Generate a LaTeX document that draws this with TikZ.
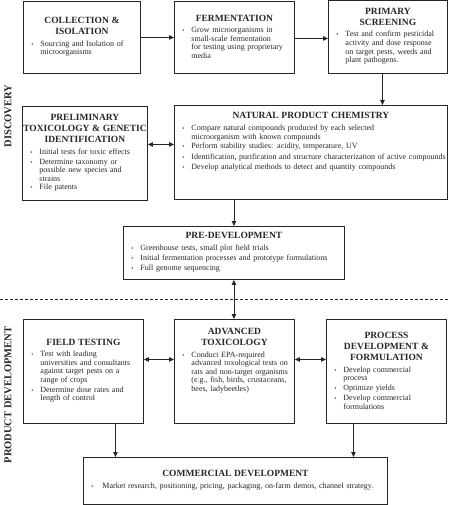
\documentclass[tikz,border=0pt]{standalone}
\usepackage{fontspec}
\setmainfont{Liberation Serif}
\usetikzlibrary{arrows.meta,calc}
\newcommand{\hd}[1]{{\centering\fontsize{9.5}{11.2}\selectfont\bfseries #1\par}\vspace{3pt}}
\newcommand{\bi}[1]{\par\noindent\hspace*{8pt}\makebox[9pt][l]{\fontsize{6}{6}\selectfont\textbullet}\parbox[t]{\dimexpr\hsize-19pt\relax}{\fontsize{8}{8.6}\selectfont\raggedright #1}\par\vspace{1.5pt}}
\definecolor{ink}{gray}{0.15}
\tikzset{
  stage/.style={draw=ink, line width=0.9pt, anchor=north west, inner xsep=0pt, inner ysep=1pt, text=ink, font=\fontsize{8}{8.6}\selectfont},
  arr/.style={draw=ink, line width=0.8pt, -{Triangle[length=5pt,width=4.5pt]}},
  dbl/.style={draw=ink, line width=0.8pt, {Triangle[length=5pt,width=4.5pt]}-{Triangle[length=5pt,width=4.5pt]}},
  phase/.style={rotate=90, text=ink, font=\fontsize{10.5}{12}\selectfont\bfseries}
}
\begin{document}
\begin{tikzpicture}[x=1pt,y=-1pt]
\useasboundingbox (0,0) rectangle (449,505);

\node[stage, text width=117pt, minimum height=72pt] (coll) at (23,1) {%
\hd{COLLECTION \&\\ISOLATION}%
\bi{Sourcing and Isolation of\\microorganisms}};

\node[stage, text width=120pt, minimum height=72pt] (ferm) at (174,1) {%
\hd{FERMENTATION}%
\bi{Grow microorganisms in\\small-scale fermentation\\for testing using proprietary\\media}};

\node[stage, text width=119pt, minimum height=73pt] (prim) at (328,0) {%
\hd{PRIMARY\\SCREENING}%
\bi{Test and confirm pesticidal\\activity and dose response\\on target pests, weeds and\\plant pathogens.}};

\node[stage, text width=125pt, minimum height=94pt] (pretox) at (22,106) {%
\hd{PRELIMINARY\\TOXICOLOGY \& GENETIC\\IDENTIFICATION}%
\bi{Initial tests for toxic effects}%
\bi{Determine taxonomy or\\possible new species and\\strains}%
\bi{File patents}};

\node[stage, text width=273pt, minimum height=94pt] (npc) at (174,105) {%
\hd{NATURAL PRODUCT CHEMISTRY}%
\bi{Compare natural compounds produced by each selected\\microorganism with known compounds}%
\bi{Perform stability studies: acidity, temperature, UV}%
\bi{\mbox{Identification, purification and structure characterization of active compounds}}%
\bi{Develop analytical methods to detect and quantity compounds}%
\par\vspace*{20pt}};

\node[stage, text width=221pt, minimum height=53pt] (predev) at (123,226) {%
\hd{PRE-DEVELOPMENT}%
\bi{Greenhouse tests, small plot field trials}%
\bi{Initial fermentation processes and prototype formulations}%
\bi{Full genome sequencing}};

\node[stage, text width=120pt, minimum height=104pt] (field) at (23,319) {%
\hd{FIELD TESTING}%
\bi{Test with leading\\universities and consultants\\against target pests on a\\range of crops}%
\bi{Determine dose rates and\\length of control}};

\node[stage, text width=120pt, minimum height=104pt] (advtox) at (174,319) {%
\hd{ADVANCED\\TOXICOLOGY}%
\bi{Conduct EPA-required\\advanced toxological tests on\\rats and non-target organisms\\(e.g., fish, birds, crustaceans,\\bees, ladybeetles)}%
\par\vspace*{20pt}};

\node[stage, text width=120pt, minimum height=104pt] (proc) at (326,319) {%
\hd{PROCESS\\DEVELOPMENT \&\\FORMULATION}%
\bi{Develop commercial\\process}%
\bi{Optimize yields}%
\bi{Develop commercial\\formulations}};

\node[stage, text width=304pt, minimum height=47pt] (comm) at (83,457) {%
\hd{COMMERCIAL DEVELOPMENT}%
\bi{\hspace{2pt}Market research, positioning, pricing, packaging, on-farm demos, channel strategy.}};

\node[phase] (disc) at (8,116) {DISCOVERY};
\node[phase] (pdev) at (8,395) {PRODUCT DEVELOPMENT};

\coordinate (dl) at (0,299);
\coordinate (dr) at (449,299);
\draw[draw=ink, line width=0.7pt, dash pattern=on 3pt off 2pt] (dl) -- (dr);

\draw[arr] (coll.east) -- (coll.east -| ferm.west);
\draw[arr] ([yshift=-1pt]ferm.east) -- ([yshift=-1pt]ferm.east -| prim.west);
\draw[arr] ([xshift=-5.5pt]prim.south) -- ([xshift=-5.5pt]prim.south |- npc.north);
\draw[dbl] ([yshift=9pt]pretox.east) -- ([yshift=9pt]pretox.east -| npc.west);
\draw[arr] (predev.north |- npc.south) -- (predev.north);
\draw[dbl] (predev.south) -- (predev.south |- advtox.north);
\draw[dbl] ([yshift=12pt]field.east) -- ([yshift=12pt]field.east -| advtox.west);
\draw[dbl] ([yshift=12pt]advtox.east) -- ([yshift=12pt]advtox.east -| proc.west);
\draw[arr] ([xshift=32pt]field.south) -- ([xshift=32pt]field.south |- comm.north);
\draw[arr] ([xshift=-33pt]proc.south) -- ([xshift=-33pt]proc.south |- comm.north);
\end{tikzpicture}
\end{document}
